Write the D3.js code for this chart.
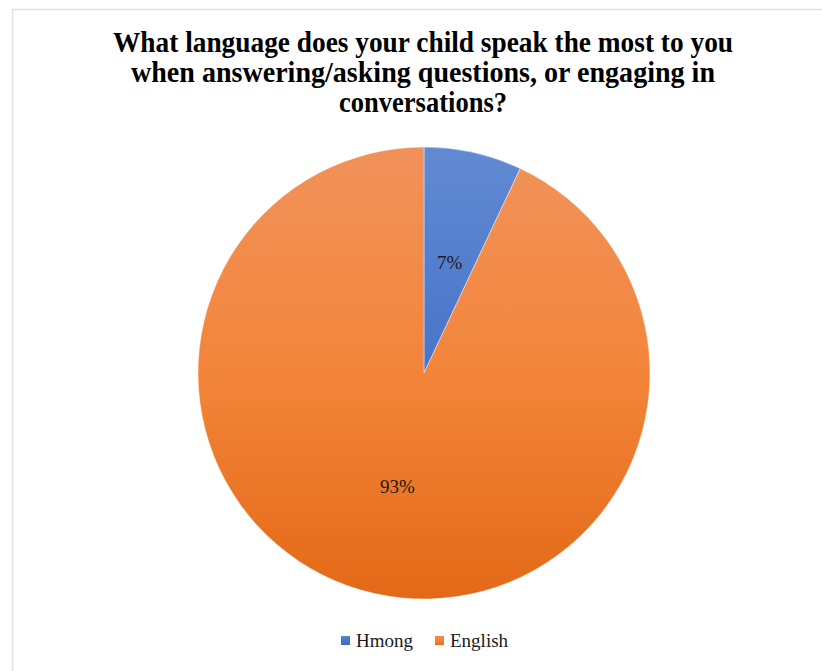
<!DOCTYPE html>
<html>
<head>
<meta charset="utf-8">
<script src="https://cdn.jsdelivr.net/npm/d3@7"></script>
<style>
  html, body { margin: 0; padding: 0; background: #fff; }
  svg { display: block; }
</style>
</head>
<body>
<svg id="chart" width="822" height="671"></svg>
<script>
// Survey answers: language the child uses most with the parent
const categories = ["Hmong", "English"];
const shares = [7, 93];
const sliceLabels = ["7%", "93%"];
const titleLines = [
  "What language does your child speak the most to you",
  "when answering/asking questions, or engaging in",
  "conversations?"
];
const titleWidths = [620, 584, 168];

const svg = d3.select("#chart");
const W = 822, H = 671;

// chart area frame (top and left edges visible)
svg.append("path")
  .attr("d", `M12.5,${H} L12.5,9.5 L${W},9.5`)
  .attr("fill", "none")
  .attr("stroke", "#dfe2e7")
  .attr("stroke-width", 1.5);

const cx = 424, cy = 373, R = 226;

// colour ramps: lighter at top, deeper at bottom (pie-local coordinates)
const defs = svg.append("defs");
const ramps = [
  { id: "gBlue", stops: ["#628ad3", "#4874c9", "#3a66be"] },
  { id: "gOrange", stops: ["#f1925b", "#f3853a", "#e36917"] }
];
ramps.forEach(r => {
  const g = defs.append("linearGradient")
    .attr("id", r.id)
    .attr("gradientUnits", "userSpaceOnUse")
    .attr("x1", 0).attr("y1", -R).attr("x2", 0).attr("y2", R);
  r.stops.forEach((c, i) => {
    g.append("stop").attr("offset", `${i * 50}%`).attr("stop-color", c);
  });
});
const legendRamps = [
  { id: "lBlue", stops: ["#5a84d0", "#4874c9", "#3d69c0"] },
  { id: "lOrange", stops: ["#f28c4e", "#f3843a", "#e86d1f"] }
];
legendRamps.forEach(r => {
  const g = defs.append("linearGradient")
    .attr("id", r.id)
    .attr("x1", 0).attr("y1", 0).attr("x2", 0).attr("y2", 1);
  r.stops.forEach((c, i) => {
    g.append("stop").attr("offset", `${i * 50}%`).attr("stop-color", c);
  });
});
const color = d3.scaleOrdinal().domain(categories).range(["url(#gBlue)", "url(#gOrange)"]);
const legendColor = d3.scaleOrdinal().domain(categories).range(["url(#lBlue)", "url(#lOrange)"]);

// title
const title = svg.append("text")
  .attr("text-anchor", "middle")
  .attr("font-family", "'Liberation Serif', 'Times New Roman', serif")
  .attr("font-weight", "bold")
  .attr("font-size", 28.5)
  .attr("fill", "#000");
titleLines.forEach((line, i) => {
  title.append("tspan")
    .attr("x", 423)
    .attr("y", 52 + i * 30)
    .attr("textLength", titleWidths[i])
    .attr("lengthAdjust", "spacingAndGlyphs")
    .text(line);
});

// pie
const data = categories.map((c, i) => ({ name: c, value: shares[i], label: sliceLabels[i] }));
const pie = d3.pie().value(d => d.value).sort(null);
const arcs = pie(data);
const arc = d3.arc().innerRadius(0).outerRadius(R);

const g = svg.append("g").attr("transform", `translate(${cx},${cy})`);
g.selectAll("path.slice")
  .data(arcs)
  .join("path")
  .attr("class", "slice")
  .attr("d", arc)
  .attr("fill", d => color(d.data.name))
  .attr("stroke", "#ffffff")
  .attr("stroke-opacity", 0.5)
  .attr("stroke-width", 0.8);

// value labels
const labelArc = d3.arc().innerRadius(R * 0.5).outerRadius(R * 0.5);
const labelOffsets = [[1, 0], [-2, 3]];
g.selectAll("text.value")
  .data(arcs)
  .join("text")
  .attr("class", "value")
  .attr("transform", (d, i) => {
    const [x, y] = labelArc.centroid(d);
    return `translate(${x + labelOffsets[i][0]},${y + labelOffsets[i][1]})`;
  })
  .attr("text-anchor", "middle")
  .attr("dy", "0.35em")
  .attr("font-family", "'Liberation Serif', 'Times New Roman', serif")
  .attr("font-size", 19)
  .attr("fill", "#1a1a1a")
  .text(d => d.data.label);

// legend
const legend = svg.append("g");
const legendX = [341, 435];
categories.forEach((c, i) => {
  legend.append("rect")
    .attr("x", legendX[i]).attr("y", 636)
    .attr("width", 9).attr("height", 9)
    .attr("fill", legendColor(c));
  legend.append("text")
    .attr("x", legendX[i] + 15).attr("y", 647)
    .attr("font-family", "'Liberation Serif', 'Times New Roman', serif")
    .attr("font-size", 19)
    .attr("fill", "#1a1a1a")
    .text(c);
});
</script>
</body>
</html>
